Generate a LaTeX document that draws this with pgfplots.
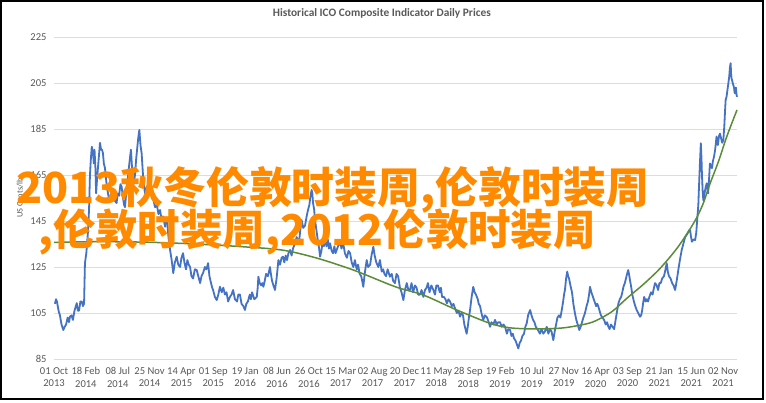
\documentclass[border=0pt]{standalone}
\usepackage{pgfplots}
\pgfplotsset{compat=1.18}
\usepackage{fontspec}
\setmainfont{Carlito}
\newfontfamily\cjk{Noto Sans CJK SC}
\definecolor{icoblue}{HTML}{4472C4}
\definecolor{icogreen}{HTML}{5B8C3A}
\definecolor{lblgray}{HTML}{595959}
\definecolor{gridgray}{HTML}{DDDDDD}
\definecolor{ovorange}{HTML}{FF8A00}
\begin{document}
\begin{tikzpicture}[x=1bp,y=1bp]
\useasboundingbox (0,0) rectangle (766,402);
\fill[white] (0,0) rectangle (766,402);
\begin{axis}[
  at={(54bp,43bp)}, anchor=south west,
  scale only axis, width=683bp, height=322bp,
  xmin=0, xmax=3001, ymin=85, ymax=225,
  ytick={85,105,...,225},
  xtick={0,140,...,2940},
  xticklabels={{01 Oct\\2013},{18 Feb\\2014},{08 Jul\\2014},{25 Nov\\2014},{14 Apr\\2015},{01 Sep\\2015},{19 Jan\\2016},{08 Jun\\2016},{26 Oct\\2016},{15 Mar\\2017},{02 Aug\\2017},{20 Dec\\2017},{11 May\\2018},{28 Sep\\2018},{19 Feb\\2019},{10 Jul\\2019},{27 Nov\\2019},{16 Apr\\2020},{03 Sep\\2020},{21 Jan\\2021},{15 Jun\\2021},{02 Nov\\2021}},
  xticklabel style={align=center, font=\fontsize{10.6}{12.5}\selectfont, text=lblgray, yshift=-5bp},
  yticklabel style={font=\fontsize{10.6}{12}\selectfont, text=lblgray, xshift=-4bp},
  /pgf/number format/assume math mode=true,
  major tick length=0pt,
  axis line style={draw=none},
  ymajorgrids, grid style={gridgray, line width=0.8bp},
  title={Historical ICO Composite Indicator Daily Prices},
  title style={at={(axis description cs:0.48,1.056)}, anchor=center, font=\bfseries\fontsize{11.4}{13}\selectfont, text=lblgray},
  ylabel={US Cents/lb},
  ylabel style={at={(axis description cs:-0.0498,0.5)}, anchor=center, font=\fontsize{8.4}{9}\selectfont, text=lblgray},
  clip=false,
]
\addplot[icoblue, line width=1.8bp, line join=round] table {
x y
4 109
9 111
13 110
20 106
26 104
33 100
41 97.6
47 99
53 100
60 103
66 101
70 103.4
77 104
83 102
90 106
100 109.3
105 106
110 106
116 110
122 110
127 108
132 109
136 126.7
142 131
149 140
154 150
158 165
162 172
166 177.3
171 175
175 170
178 176
182 168
185 157
189 163
193 168
198 174
202 179
207 176
211 176
215 174.5
219 170
224 168
228 164
232 160
239 156
246 154
252 158
259 158
266 154
275 152.8
280 157
286 156
292 161
297 160
303 155
308 152
312 151
318 158
325 164
331 170
338 176
343 168
347 160
351 162
356 165
361 172
365 176
370 181
375 184.6
380 178
385 174.5
391 165
396 160
400 157
408 160
415 157
422 160
430 155
437 154
444 151
452 152
459 148
466 149.8
472 146
479 147
488 142.5
492 146
497 145
503 138
510 132.4
517 128
524 122.3
531 127
539 129.5
546 126
554 125
560 129
567 131
573 127
580 124
586 128
592 126
598 125
604 121
611 120
619 124
627 123.7
634 121
642 118
648 121
655 122.4
663 125
670 124
677 126.7
683 121
690 118
695 116
699 115
707 112
715 110.6
722 113
729 116.4
737 114
744 116
751 113
758 114
765 110
773 112
780 113
787 115
795 111
804 110
810 113
817 113
824 109
832 108
839 106.3
845 109
852 110
860 113
865 111
870 114
880 111
891 112
895 116
898 120.8
904 118
910 117
915 118
920 116.4
926 119
932 122
940 121
949 125
953 122
958 119
964 117
971 115
978 120
986 128
993 126
1000 129
1006 129.5
1012 127
1018 130
1024 128
1030 131
1037 132.4
1044 130
1050 133
1058 135
1066 138
1071 137
1077 136
1082 141
1088 145.4
1095 142
1103 143
1110 147
1116 149.8
1122 152
1127 156
1132 158.5
1135 157
1138 153
1143 150
1147 145.4
1153 141
1160 136
1165 133
1169 129.5
1175 132
1180 136
1186 134
1191 138
1197 134
1203 137
1208 133
1213 135.3
1220 132
1226 131
1232 134
1237 131
1242 132.4
1248 134
1257 136
1263 133
1271 135.3
1278 131
1287 129
1294 132
1301 131
1308 127
1315 125
1322 128
1330 124
1336 126
1343 122
1350 121
1359 116.4
1365 122
1371 126
1374 128
1380 125
1389 126
1395 130
1403 133.8
1409 130
1416 127
1425 125
1432 128
1440 123
1446 124
1452 122
1459 121
1466 124
1476 120.8
1484 122
1490 119
1498 118
1505 122
1512 121
1520 116
1527 114
1535 110.6
1542 115
1550 118
1557 115
1564 115
1571 118
1578 114
1586 117
1593 116
1600 113
1608 113
1615 115
1623 112
1630 115
1637 116
1643 118
1650 114
1658 117
1667 115
1674 113
1680 117
1687 117
1695 114
1700 116
1705 112
1713 112
1720 111
1726 109.2
1733 111
1740 110
1748 108
1755 109
1762 107
1770 105
1777 106
1784 103.4
1790 105
1797 104
1803 100
1808 98
1813 96
1818 99
1823 103
1828 106.3
1835 112
1842 116.4
1848 114
1854 113
1862 111
1866 109
1872 108
1878 105
1886 102
1893 104
1903 103
1910 101
1916 99
1922 101
1930 100
1938 102
1945 100
1952 101
1960 101
1967 99
1975 100
1982 99
1990 96
1996 98
2004 97.6
2010 95
2016 96
2021 94
2028 93
2035 91
2040 89.6
2046 92
2052 93
2058 95
2065 96
2071 99
2077 100.5
2083 104
2092 106.3
2098 104
2105 102
2111 101
2117 99
2124 98
2130 97
2135 96
2142 98
2150 96
2157 97
2165 99
2172 96
2179 98
2186 97
2190 95
2194 93.2
2200 97
2206 100
2212 103
2219 104
2225 103
2231 106.3
2237 110
2241 113
2245 115
2250 120
2255 123
2259 121
2263 120
2269 117
2276 114
2282 109
2289 104.8
2295 102
2301 100
2308 97.6
2314 99
2320 101
2326 103
2333 105
2340 108
2346 110
2351 113
2355 116.4
2361 114
2368 112
2375 110
2382 108
2387 109
2392 107.7
2397 106
2403 104
2410 103
2417 102
2424 100
2430 101
2436 99
2441 98
2447 100
2454 99
2461 98
2466 101
2471 104
2476 107
2480 109.2
2486 111
2492 112
2497 114
2502 116.4
2508 118
2513 120
2518 122
2523 123.7
2528 121
2531 119
2535 117
2541 113
2548 110
2554 108
2560 106.3
2567 105
2575 103.4
2580 104
2584 106
2588 109
2593 112
2600 110
2605 111
2610 110
2616 112
2623 114
2630 113
2636 116
2641 118
2648 117
2654 115
2660 118
2666 118
2672 120
2680 121
2687 124
2692 126.7
2697 123
2702 121
2709 120
2716 118
2722 117
2729 115
2736 119
2743 123.7
2750 128
2758 132.4
2765 135
2773 138
2780 139
2786 140
2791 141
2795 141
2799 138
2803 136
2810 137
2817 136.7
2822 140
2827 146.9
2831 152
2834 160
2838 170
2842 178.8
2845 172
2847 165
2850 158
2853 154
2857 156
2860 158
2864 160
2868 161.4
2871 159
2874 157
2878 163
2882 170
2886 169
2891 168
2895 171
2900 173
2905 176
2911 181.7
2914 180
2917 178
2922 182
2926 183
2931 181
2936 179
2941 180.2
2945 186
2948 192
2951 197.6
2955 199
2959 202
2963 204.9
2967 208
2970 212
2973 213.6
2975 209
2977 207
2980 206
2982 205
2985 204
2988 203
2990 201
2992 200.5
2994 202
2996 203
2999 200
3001 199
};
\addplot[icogreen, line width=1.5bp, smooth] table {
x y
0 135.7
200 136
400 135.8
600 135.1
800 134
1000 132.4
1150 129
1315 123.7
1500 116.4
1623 112.8
1770 106.3
1916 100.5
2000 98.6
2100 98.1
2223 98.4
2300 99.5
2370 101.2
2450 105.5
2517 111.4
2590 117.5
2663 124.4
2740 133.5
2810 144
2850 152
2883 161.4
2920 171
2956 181.7
3001 193.3
};
\end{axis}
\node[anchor=base west, inner sep=0, text=ovorange, font=\cjk\bfseries\fontsize{43}{43}\selectfont] at (16,199) {2013秋冬伦敦时装周,伦敦时装周};
\node[anchor=base west, inner sep=0, text=ovorange, font=\cjk\bfseries\fontsize{42.6}{43}\selectfont] at (38,157) {,伦敦时装周,2012伦敦时装周};
\draw[black, line width=1.6bp] (0.8,2.8) rectangle (763.2,401.2);
\end{tikzpicture}
\end{document}
